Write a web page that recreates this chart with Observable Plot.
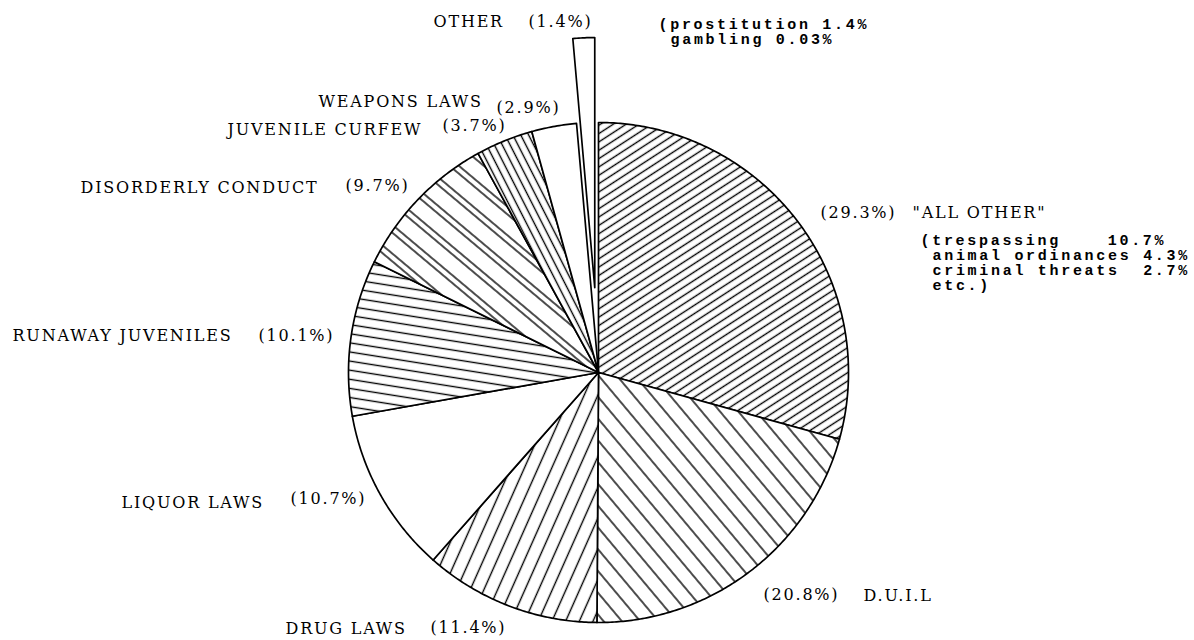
<!DOCTYPE html>
<html><head><meta charset="utf-8">
<script src="https://cdn.jsdelivr.net/npm/d3@7"></script>
<script src="https://cdn.jsdelivr.net/npm/@observablehq/plot@0.6"></script>
<style>
html,body{margin:0;padding:0;background:#fff;}
#chart{width:1194px;height:640px;overflow:hidden;}
</style></head><body><div id="chart"></div>
<script>
// ---------------- data ----------------
const categories = ["ALL OTHER","D.U.I.L","DRUG LAWS","LIQUOR LAWS","RUNAWAY JUVENILES","DISORDERLY CONDUCT","JUVENILE CURFEW","WEAPONS LAWS","OTHER"];
const values = [29.3, 20.8, 11.4, 10.7, 10.1, 9.7, 3.7, 2.9, 1.4];
const percentLabels = ["(29.3%)","(20.8%)","(11.4%)","(10.7%)","(10.1%)","(9.7%)","(3.7%)","(2.9%)","(1.4%)"];
const nameLabels = ["\"ALL OTHER\"","D.U.I.L","DRUG LAWS","LIQUOR LAWS","RUNAWAY JUVENILES","DISORDERLY CONDUCT","JUVENILE CURFEW","WEAPONS LAWS","OTHER"];
const noteOther = ["(prostitution 1.4%","gambling 0.03%"];
const noteAllOther = ["(trespassing    10.7%","animal ordinances 4.3%","criminal threats  2.7%","etc.)"];
const explodedCategory = "OTHER";

// ---------------- layout / style ----------------
const W = 1194, H = 640, CX = 598, CY = 372, R = 250;
const explodeDist = 0.34; // in radius units
const serifSpacing = 1.8, monoSpacing = 2.7;
const hatchStyles = [
  {angle:-33, gap:7},          // ALL OTHER
  {angle:50, gap:14},          // D.U.I.L
  {angle:-66, gap:12.5},       // DRUG LAWS
  null,                        // LIQUOR LAWS (white)
  {angle:9, gap:9},            // RUNAWAY JUVENILES
  {angle:40, gap:22, pair:6},  // DISORDERLY CONDUCT
  {angle:63, gap:7},           // JUVENILE CURFEW
  null,                        // WEAPONS LAWS (white)
  null                         // OTHER (white, exploded)
];
// label placement in page pixels (start x, centre y)
const nameLayout = [[912,212],[863,595],[285,628],[121,502],[12,335],[80,187],[227,129],[318,101],[433,21]];
const pctLayout  = [[820,212],[763,594],[430,627],[290,498],[258,335],[345,185],[442,125],[496,107],[528,21]];
const noteOtherLayout = [[658,24],[670,39]];
const noteAllLayout = [[920,240],[932,255],[932,270],[932,285]];

const ux = px => (px - CX) / R;
const uy = py => (CY - py) / R;

// ---------------- slice geometry from values ----------------
const total = d3.sum(values);
const rows = [];
let cum = 0;
categories.forEach((cat, i) => {
  const a0 = cum / total * 2 * Math.PI;
  cum += values[i];
  const a1 = cum / total * 2 * Math.PI;
  const mid = (a0 + a1) / 2;
  const off = cat === explodedCategory ? explodeDist : 0;
  const ox = off * Math.sin(mid), oy = off * Math.cos(mid);
  rows.push({cat, i, x: ox, y: oy});
  const n = Math.max(4, Math.ceil((a1 - a0) / (Math.PI / 360)));
  for (let k = 0; k <= n; k++) {
    const a = a0 + (a1 - a0) * k / n;
    rows.push({cat, i, x: ox + Math.sin(a), y: oy + Math.cos(a)});
  }
  rows.push({cat, i, x: ox, y: oy});
});

const sliceMarks = categories.map((cat, i) =>
  Plot.line(rows.filter(d => d.cat === cat), {
    x: "x", y: "y", curve: "linear",
    fill: hatchStyles[i] ? `url(#hatch-${i})` : "white",
    stroke: "black", strokeWidth: 1.7, strokeLinejoin: "round"
  })
);

const serifTexts = [];
categories.forEach((c, i) => {
  serifTexts.push({x: ux(nameLayout[i][0]), y: uy(nameLayout[i][1]), t: nameLabels[i]});
  serifTexts.push({x: ux(pctLayout[i][0]), y: uy(pctLayout[i][1]), t: percentLabels[i]});
});
const monoTexts = [];
noteOther.forEach((t, i) => monoTexts.push({x: ux(noteOtherLayout[i][0]), y: uy(noteOtherLayout[i][1]), t}));
noteAllOther.forEach((t, i) => monoTexts.push({x: ux(noteAllLayout[i][0]), y: uy(noteAllLayout[i][1]), t}));

const chart = Plot.plot({
  width: W, height: H,
  margin: 0,
  x: {domain: [ux(0), ux(W)], axis: null},
  y: {domain: [uy(H), uy(0)], axis: null},
  marks: [
    ...sliceMarks,
    Plot.text(serifTexts, {x: "x", y: "y", text: "t", textAnchor: "start",
      fontFamily: "DejaVu Serif", fontSize: 16, fill: "#000"}),
    Plot.text(monoTexts, {x: "x", y: "y", text: "t", textAnchor: "start",
      fontFamily: "Liberation Mono", fontSize: 15, fontWeight: "bold", fill: "#000"})
  ]
});

// letter spacing + whitespace preservation for the text marks
chart.querySelectorAll('g[font-family="DejaVu Serif"] text').forEach(t => {
  t.style.letterSpacing = serifSpacing + "px";
});
chart.querySelectorAll('g[font-family="Liberation Mono"] text').forEach(t => {
  t.style.letterSpacing = monoSpacing + "px";
  t.style.whiteSpace = "pre";
  t.setAttribute("xml:space", "preserve");
});

// hatch pattern definitions
const ns = "http://www.w3.org/2000/svg";
const defs = document.createElementNS(ns, "defs");
hatchStyles.forEach((h, i) => {
  if (!h) return;
  const p = document.createElementNS(ns, "pattern");
  p.setAttribute("id", `hatch-${i}`);
  p.setAttribute("patternUnits", "userSpaceOnUse");
  p.setAttribute("width", 20);
  p.setAttribute("height", h.gap);
  p.setAttribute("patternTransform", `rotate(${h.angle})`);
  const bg = document.createElementNS(ns, "rect");
  bg.setAttribute("width", 20); bg.setAttribute("height", h.gap); bg.setAttribute("fill", "white");
  p.appendChild(bg);
  const ys = h.pair ? [h.gap / 2 - h.pair / 2, h.gap / 2 + h.pair / 2] : [h.gap / 2];
  ys.forEach(y => {
    const l = document.createElementNS(ns, "line");
    l.setAttribute("x1", -1); l.setAttribute("x2", 21);
    l.setAttribute("y1", y); l.setAttribute("y2", y);
    l.setAttribute("stroke", "black"); l.setAttribute("stroke-width", 1.4);
    p.appendChild(l);
  });
  defs.appendChild(p);
});
chart.insertBefore(defs, chart.firstChild);
document.getElementById("chart").appendChild(chart);
</script></body></html>
